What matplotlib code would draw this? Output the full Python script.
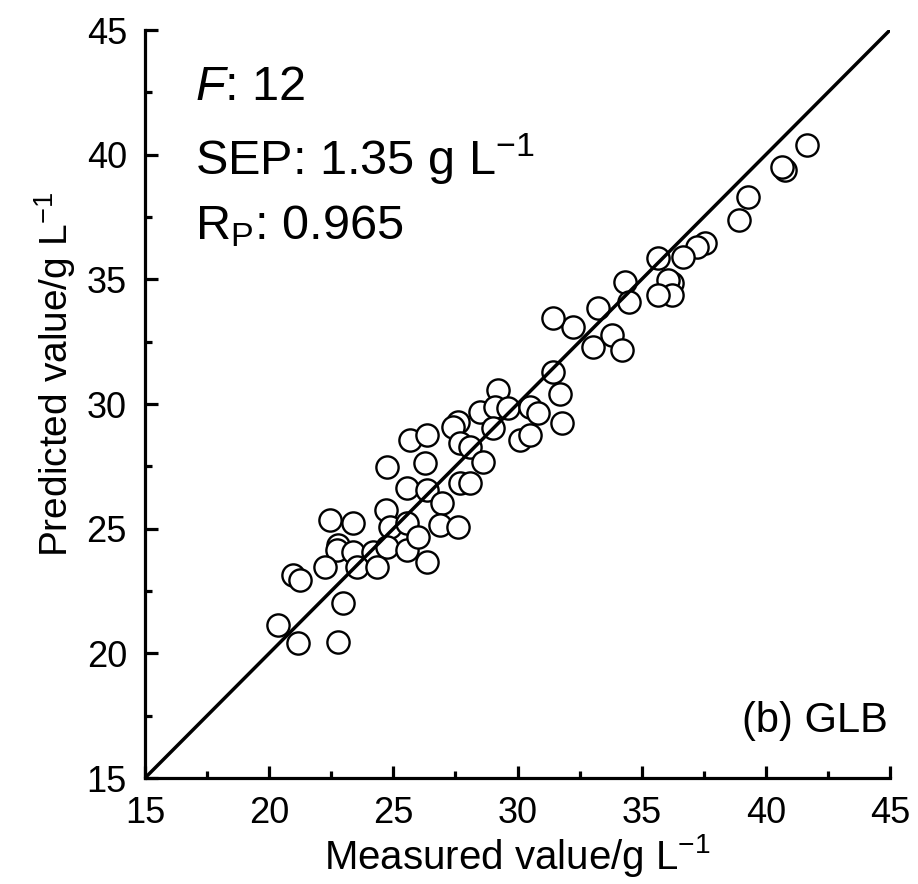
import numpy as np
import matplotlib
matplotlib.use('Agg')
import matplotlib.pyplot as plt
from matplotlib.ticker import MultipleLocator

plt.rcParams['font.family'] = ['Liberation Sans', 'DejaVu Sans']
plt.rcParams['mathtext.fontset'] = 'custom'
plt.rcParams['mathtext.rm'] = 'Liberation Sans'
plt.rcParams['mathtext.it'] = 'Liberation Sans:italic'

# measured vs predicted (g/L)
measured = [25.54, 26.35, 26.95, 24.70, 22.45, 23.39, 24.87, 25.54, 26.88, 27.62,
            22.78, 22.72, 23.39, 24.19, 24.73, 25.54, 26.01, 26.35, 22.25, 23.53,
            24.33, 20.97, 21.24, 22.99, 20.37, 21.17, 22.78,
            33.05, 33.80, 34.20, 32.25, 31.44, 31.71, 31.78, 29.23, 28.49, 29.10,
            29.63, 30.51, 30.84, 27.62, 27.42, 29.03, 30.10, 30.51, 25.67, 26.35,
            27.69, 28.09, 28.62, 24.73, 26.28, 27.69, 28.09,
            38.90, 37.55, 37.22, 36.68, 35.67, 36.21, 36.07, 36.21, 35.67, 34.33,
            34.47, 33.26, 31.44, 41.65, 40.78, 40.65, 39.30]
predicted = [26.62, 26.55, 26.02, 25.75, 25.35, 25.22, 25.08, 25.22, 25.15, 25.08,
             24.35, 24.15, 24.08, 24.08, 24.28, 24.15, 24.68, 23.68, 23.48, 23.48,
             23.48, 23.14, 22.94, 22.01, 21.14, 20.40, 20.47,
             32.30, 32.77, 32.17, 33.10, 31.30, 30.41, 29.23, 30.56, 29.69, 29.89,
             29.83, 29.89, 29.63, 29.29, 29.09, 29.03, 28.56, 28.76, 28.56, 28.76,
             28.43, 28.29, 27.69, 27.49, 27.62, 26.82, 26.82,
             37.38, 36.45, 36.31, 35.91, 35.85, 34.84, 34.98, 34.37, 34.37, 34.91,
             34.10, 33.84, 33.44, 40.39, 39.39, 39.50, 38.32]
line_x = [15, 45]

fig = plt.figure(figsize=(9.18, 8.84), dpi=100)
ax = fig.add_axes([145 / 918, 1 - 778 / 884, 745 / 918, 748 / 884])

# white-filled circles, 1:1 line drawn on top
ax.scatter(measured, predicted, s=16 ** 2, facecolors='white', edgecolors='black',
           linewidths=1.7, zorder=2, clip_on=False)
ax.plot(line_x, line_x, color='black', lw=2.5, zorder=3)

ax.set_xlim(15, 45)
ax.set_ylim(15, 45)
ax.xaxis.set_major_locator(MultipleLocator(5))
ax.yaxis.set_major_locator(MultipleLocator(5))
ax.xaxis.set_minor_locator(MultipleLocator(2.5))
ax.yaxis.set_minor_locator(MultipleLocator(2.5))

for s in ['top', 'right']:
    ax.spines[s].set_visible(False)
for s in ['left', 'bottom']:
    ax.spines[s].set_linewidth(2.3)

ax.tick_params(which='major', direction='in', length=9, width=2.3, labelsize=26)
ax.tick_params(which='minor', direction='in', length=5, width=2.3)
ax.tick_params(axis='x', pad=13)
ax.tick_params(axis='y', pad=13)

ax.set_xlabel('Measured value/g L$^{-1}$', fontsize=29)
ax.set_ylabel('Predicted value/g L$^{-1}$', fontsize=28)
ax.xaxis.set_label_coords(0.5, -0.072)
ax.yaxis.set_label_coords(-0.09, 0.54)

ax.text(17.0, 42.2, '$\\it{F}$: 12', fontsize=35)
ax.text(17.0, 39.2, 'SEP: 1.35 g L$^{-1}$', fontsize=35)
ax.text(17.0, 36.6, 'R$_\\mathrm{P}$: 0.965', fontsize=35)
ax.text(44.92, 16.85, '(b) GLB', fontsize=30, ha='right')

fig.savefig('out.png', dpi=100)
